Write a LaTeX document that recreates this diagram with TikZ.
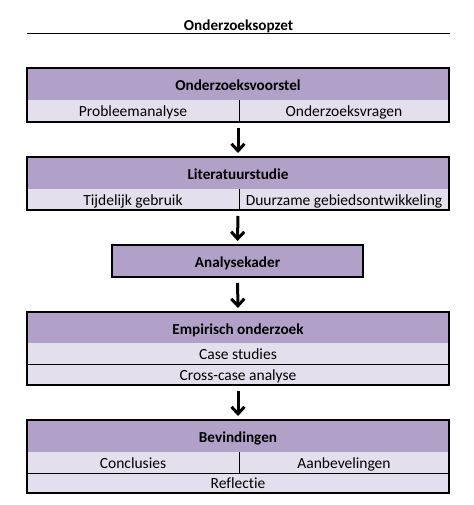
\documentclass[tikz,border=0pt]{standalone}
\usepackage{fontspec}
\setmainfont{Carlito}[Ligatures=NoCommon]
\usetikzlibrary{arrows.meta}
\definecolor{hdrpurple}{HTML}{B1A0C7}
\definecolor{subpurple}{HTML}{E4DFEC}
\begin{document}
\begin{tikzpicture}[x=1pt,y=-1pt,
 cell/.style={rectangle, inner sep=0pt, outer sep=0pt, font=\fontsize{15.5}{18}\selectfont},
 hdr/.style={cell, fill=hdrpurple, minimum height=32pt, text height=13pt, text depth=0pt, font=\fontsize{15.2}{18}\selectfont\bfseries},
 sub/.style={cell, fill=subpurple, minimum height=21pt, text height=11pt, text depth=0pt},
 border/.style={draw=black, line width=2.5pt},
 divider/.style={draw=black, line width=1pt},
 arr/.style={line width=3pt, -{Straight Barb[length=7pt,width=13pt]}, shorten <=6pt, shorten >=4pt}]
\useasboundingbox (0,0) rectangle (473,505);

% title
\node[font=\fontsize{15.2}{18}\selectfont\bfseries, inner sep=0pt, anchor=base] (title) at (238.5,30.7) {Onderzoeksopzet};
\coordinate (rl) at (27,34);
\coordinate (rr) at (450,34);
\draw[line width=1pt] (rl) -- (rr);

% box 1
\node[hdr, minimum width=422pt] (b1h) at (238,84) {Onderzoeksvoorstel};
\node[sub, minimum width=212pt, minimum height=22pt] (b1l) at (133,111) {Probleemanalyse};
\node[sub, minimum width=210pt, minimum height=22pt] (b1r) at (344,111) {Onderzoeksvragen};
\draw[divider] (b1l.north east) -- (b1l.south east);
\draw[border] (b1h.north west) rectangle (b1r.south east);

% box 2
\node[hdr, minimum width=422pt] (b2h) at (238,173) {Literatuurstudie};
\node[sub, minimum width=212pt] (b2l) at (133,199.5) {Tijdelijk gebruik};
\node[sub, minimum width=210pt] (b2r) at (344,199.5) {Duurzame gebiedsontwikkeling};
\draw[divider] (b2l.north east) -- (b2l.south east);
\draw[border] (b2h.north west) rectangle (b2r.south east);

% box 3
\node[hdr, minimum width=251pt] (b3h) at (237.5,261) {Analysekader};
\draw[border] (b3h.north west) rectangle (b3h.south east);

% box 4
\node[hdr, minimum width=422pt, minimum height=31pt] (b4h) at (238,327.5) {Empirisch onderzoek};
\node[sub, minimum width=422pt] (b4a) at (238,353.5) {Case studies};
\node[sub, minimum width=422pt] (b4b) at (238,374.5) {Cross-case analyse};
\draw[divider] (b4a.south west) -- (b4a.south east);
\draw[border] (b4h.north west) rectangle (b4b.south east);

% box 5
\node[hdr, minimum width=422pt] (b5h) at (238,436) {Bevindingen};
\node[sub, minimum width=212pt] (b5l) at (133,462.5) {Conclusies};
\node[sub, minimum width=210pt] (b5r) at (344,462.5) {Aanbevelingen};
\node[sub, minimum width=422pt, minimum height=20pt] (b5b) at (238,483) {Reflectie};
\draw[divider] (b5l.north east) -- (b5l.south east);
\draw[divider] (b5l.south west) -- (b5r.south east);
\draw[border] (b5h.north west) rectangle (b5b.south east);

% arrows
\draw[arr] (b1h.south |- b1l.south) -- (b2h.north);
\draw[arr] (b2h.south |- b2l.south) -- (b3h.north);
\draw[arr] (b3h.south) -- (b4h.north);
\draw[arr] (b4b.south) -- (b5h.north);
\end{tikzpicture}
\end{document}
